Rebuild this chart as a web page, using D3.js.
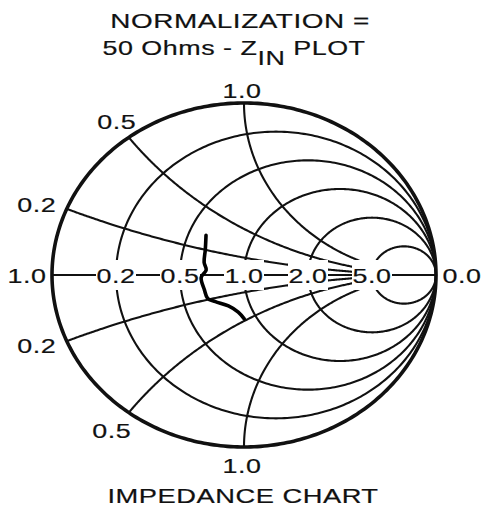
<!DOCTYPE html>
<html>
<head>
<meta charset="utf-8">
<script src="https://cdn.jsdelivr.net/npm/d3@7"></script>
<style>
  html, body { margin: 0; padding: 0; background: #fff; }
  svg { display: block; }
  text { font-family: "Liberation Sans", Arial, Helvetica, sans-serif; font-size: 21px; fill: #111; stroke: #111; stroke-width: 0.2px; }
</style>
</head>
<body>
<svg id="chart" width="484" height="509"></svg>
<script>
// Normalized resistance circles and reactance arcs of the grid
const resistances = [0.2, 0.5, 1.0, 2.0, 5.0];
const reactances = [0.2, 0.5, 1.0];
const resistanceLabels = ["0.2", "0.5", "1.0", "2.0", "5.0"];
const reactanceLabels = ["0.2", "0.5", "1.0"];
const axisEndLabels = ["1.0", "0.0"];

// Input impedance trace, normalized to 50 ohms (r + jx)
const zinR = [0.61, 0.64, 0.65, 0.67, 0.635, 0.65, 0.66, 0.71, 0.80, 0.86, 0.88];
const zinX = [0.31, 0.20, 0.10, 0.04, -0.02, -0.12, -0.19, -0.23, -0.30, -0.39, -0.48];

const titleLine1 = "NORMALIZATION =";
const titleLine2 = ["50 Ohms - Z", "IN", " PLOT"];
const bottomTitle = "IMPEDANCE CHART";

const svg = d3.select("#chart");
const cx = 244, cy = 275, rx = 192, ry = 172;
const gx = d3.scaleLinear().domain([-1, 1]).range([cx - rx, cx + rx]);
const gy = d3.scaleLinear().domain([-1, 1]).range([cy + ry, cy - ry]);
const line = d3.line().x(d => gx(d[0])).y(d => gy(d[1]));
const smooth = d3.line().x(d => gx(d[0])).y(d => gy(d[1])).curve(d3.curveCatmullRom.alpha(0.5));

// Reflection coefficient of a normalized impedance
function gamma(r, x) {
  const den = (r + 1) * (r + 1) + x * x;
  return [(r * r + x * x - 1) / den, 2 * x / den];
}

function circlePts(c, a) {
  return d3.range(0, 361, 1).map(t => {
    const th = t * Math.PI / 180;
    return [c + a * Math.cos(th), a * Math.sin(th)];
  });
}

const grid = svg.append("g").attr("fill", "none").attr("stroke", "#111");

// real axis
grid.append("path").attr("d", line([[-1, 0], [1, 0]])).attr("stroke-width", 1.8);

// constant-resistance circles
resistances.forEach(r => {
  grid.append("path")
    .attr("d", line(circlePts(r / (r + 1), 1 / (r + 1))))
    .attr("stroke-width", 2.1);
});

// constant-reactance arcs, drawn from the rim in to r = 5
reactances.forEach(x => {
  [x, -x].forEach(xv => {
    const pts = d3.range(0, 1.0001, 0.004).map(s => gamma(5 * s * s * s, xv));
    grid.append("path").attr("d", line(pts)).attr("stroke-width", 2.1);
  });
});

// outer rim (r = 0)
grid.append("path").attr("d", line(circlePts(0, 1))).attr("stroke-width", 3.6);

// text helper: slightly extended lettering
function label(g, x, y, txt, sx) {
  return g.append("text")
    .attr("transform", `translate(${x},${y}) scale(${sx || 1.28},1)`)
    .attr("text-anchor", "middle")
    .attr("letter-spacing", 0.4)
    .text(txt);
}

const labels = svg.append("g");

// labels along the real axis, each knocked out of the grid
resistances.forEach((r, i) => {
  const px = gx((r - 1) / (r + 1));
  const w = 40;
  labels.append("rect")
    .attr("x", px - w / 2).attr("y", gy(0) - 15)
    .attr("width", w).attr("height", 30)
    .attr("fill", "#fff");
  label(labels, px, gy(0) + 8, resistanceLabels[i]);
});

// labels at the two ends of the axis
label(labels, gx(-1) - 25, gy(0) + 8, axisEndLabels[0]);
label(labels, gx(1) + 26, gy(0) + 8, axisEndLabels[1]);

// reactance labels just outside the rim, above and below
const upperShift = [[-30, -4], [-12, -16], [-2, -13]];
const lowerShift = [[-30, 4], [-17, 18], [-2, 18]];
reactances.forEach((x, i) => {
  [1, -1].forEach(sgn => {
    const rim = gamma(0, sgn * x);
    const sh = sgn > 0 ? upperShift[i] : lowerShift[i];
    label(labels, gx(rim[0]) + sh[0], gy(rim[1]) + sh[1] + 7.5, reactanceLabels[i]);
  });
});

// input impedance trace
const trace = zinR.map((r, i) => gamma(r, zinX[i]));
svg.append("path")
  .attr("d", smooth(trace))
  .attr("fill", "none")
  .attr("stroke", "#000")
  .attr("stroke-width", 3.6)
  .attr("stroke-linejoin", "round")
  .attr("stroke-linecap", "round");

// titles
label(svg, 240, 28, titleLine1, 1.33);
const t2 = svg.append("text")
  .attr("transform", "translate(234,55) scale(1.28,1)")
  .attr("text-anchor", "middle")
  .attr("letter-spacing", 0.4);
t2.append("tspan").text(titleLine2[0]);
t2.append("tspan").attr("dy", 10).text(titleLine2[1]);
t2.append("tspan").attr("dy", -10).text(titleLine2[2]);
label(svg, 243, 503, bottomTitle, 1.3);
</script>
</body>
</html>
